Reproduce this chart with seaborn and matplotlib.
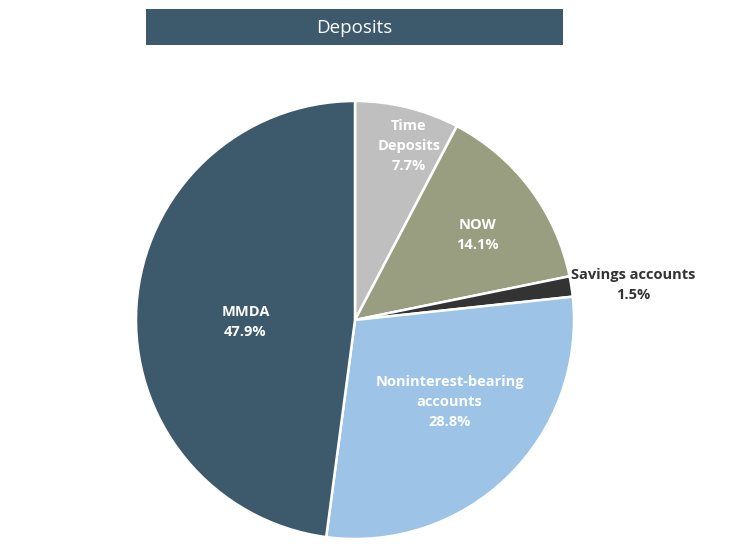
import matplotlib
matplotlib.use("Agg")
import matplotlib.pyplot as plt
import seaborn as sns
import numpy as np

categories = ["Time\nDeposits", "NOW", "Savings accounts", "Noninterest-bearing\naccounts", "MMDA"]
values = [7.7, 14.1, 1.5, 28.8, 47.9]
colors = ["#bfbfbf", "#9a9e80", "#333333", "#9dc3e6", "#3d5a6c"]
label_colors = ["white", "white", "#333333", "white", "white"]
label_radius = [0.83, 0.68, 1.28, 0.57, 0.50]
label_angle_shift = [-3.3, -2.0, -1.6, 4.9, 4.8]

sns.set_theme(style="white")
plt.rcParams['font.family'] = ['Open Sans', 'DejaVu Sans']

fig = plt.figure(figsize=(7.46, 5.56), dpi=100)
W, H = 746, 556
# title box
tax = fig.add_axes([146 / W, 1 - 45 / H, (563 - 146) / W, 36 / H])
tax.set_facecolor("#3d5a6c")
tax.set_xticks([]); tax.set_yticks([])
for s in tax.spines.values():
    s.set_visible(False)
tax.text(0.5, 0.47, "Deposits", color="white", fontsize=13.5, ha="center", va="center",
         transform=tax.transAxes)

cx, cy, r = 355, 320, 219
ax = fig.add_axes([(cx - r) / W, (H - cy - r) / H, 2 * r / W, 2 * r / H])
wedges, _ = ax.pie(values, colors=colors, startangle=90, counterclock=False,
                   wedgeprops=dict(edgecolor="white", linewidth=1.8))
ax.set_xlim(-1, 1); ax.set_ylim(-1, 1)
ax.set_aspect("equal")

for w, cat, v, lc, lr, sh in zip(wedges, categories, values, label_colors, label_radius, label_angle_shift):
    ang = np.deg2rad((w.theta1 + w.theta2) / 2 + sh)
    ax.text(lr * np.cos(ang), lr * np.sin(ang), f"{cat}\n{v:.1f}%", color=lc,
            fontsize=10.5, fontweight="bold", ha="center", va="center", linespacing=1.55)

fig.savefig("out.png", dpi=100)
